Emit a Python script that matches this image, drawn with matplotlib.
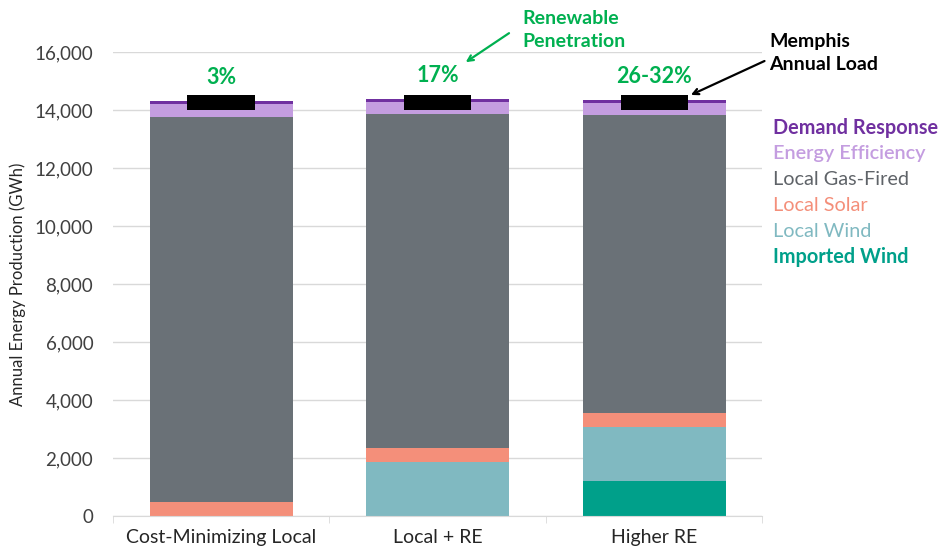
import matplotlib.pyplot as plt
import numpy as np
from matplotlib.ticker import FuncFormatter

plt.rcParams['font.family'] = ['Lato', 'DejaVu Sans']

categories = ['Cost-Minimizing Local', 'Local + RE', 'Higher RE']
imported_wind = [0, 0, 1200]
local_wind = [0, 1850, 1870]
local_solar = [500, 490, 490]
gas_fired = [13270, 11510, 10260]
efficiency = [430, 415, 425]
demand_resp = [115, 115, 115]
memphis_load = [14260, 14260, 14260]
re_share = ['3%', '17%', '26-32%']

series = [('Imported Wind', imported_wind, '#00A08A'),
          ('Local Wind', local_wind, '#80B9C1'),
          ('Local Solar', local_solar, '#F48F7A'),
          ('Local Gas-Fired', gas_fired, '#6A7177'),
          ('Energy Efficiency', efficiency, '#C49DE0'),
          ('Demand Response', demand_resp, '#7030A0')]

fig = plt.figure(figsize=(9.4, 5.57), dpi=100)
ax = fig.add_axes([0.120, 0.0736, 0.691, 0.833])

x = np.arange(len(categories))
bottom = np.zeros(len(categories))
for name, vals, col in series:
    ax.bar(x, vals, 0.66, bottom=bottom, color=col, zorder=2)
    bottom += np.array(vals)

# Memphis annual load marker
load = np.array(memphis_load)
ax.bar(x, 520, 0.31, bottom=load - 260, color='black', zorder=3)

for xi, top, lab in zip(x, bottom, re_share):
    ax.text(xi, top + 450, lab, ha='center', va='bottom', color='#00B050',
            fontsize=15.5, fontweight='bold')

ax.set_xlim(-0.5, 2.5)
ax.set_ylim(0, 16000)
ax.set_yticks(np.arange(0, 16001, 2000))
ax.yaxis.set_major_formatter(FuncFormatter(lambda v, p: f'{v:,.0f}'))
ax.grid(axis='y', color='#D9D9D9', lw=1, zorder=0)
ax.set_xticks(x)
ax.set_xticklabels(categories, fontsize=14, color='#262626')
ax.set_xticks([-0.5, 0.5, 1.5, 2.5], minor=True)
ax.tick_params(axis='x', which='major', length=0, pad=9)
ax.tick_params(axis='x', which='minor', length=5, color='#D9D9D9')
ax.tick_params(axis='y', length=0, labelsize=13.5, labelcolor='#404040', pad=14)
for s in ['left', 'right', 'top']:
    ax.spines[s].set_visible(False)
ax.spines['bottom'].set_color('#D9D9D9')
ax.set_ylabel('Annual Energy Production (GWh)', fontsize=12, color='#262626', labelpad=6)

# annotations
ax.text(1.39, 16750, 'Renewable\nPenetration', color='#00B050', fontsize=14,
        fontweight='bold', ha='left', va='center', linespacing=1.45, clip_on=False)
ax.annotate('', xy=(1.13, 15650), xytext=(1.33, 16650),
            arrowprops=dict(arrowstyle='->', color='#00B050', lw=1.6,
                            shrinkA=0, shrinkB=0), annotation_clip=False)
ax.text(2.532, 15960, 'Memphis\nAnnual Load', color='black', fontsize=14,
        fontweight='bold', ha='left', va='center', linespacing=1.45, clip_on=False)
ax.annotate('', xy=(2.17, 14520), xytext=(2.51, 15690),
            arrowprops=dict(arrowstyle='->', color='black', lw=1.6,
                            shrinkA=0, shrinkB=0), annotation_clip=False)

# legend as coloured text
leg = [('Demand Response', '#7030A0', 'bold'),
       ('Energy Efficiency', '#C49DE0', 'semibold'),
       ('Local Gas-Fired', '#5F6368', 'normal'),
       ('Local Solar', '#F48F7A', 'normal'),
       ('Local Wind', '#80B9C1', 'normal'),
       ('Imported Wind', '#00A08A', 'bold')]
for i, (lab, col, w) in enumerate(leg):
    fig.text(773 / 940, 1 - (128 + i * 25.8) / 557, lab, color=col, fontsize=14.3,
             fontweight=w, ha='left', va='center')

fig.savefig('out.png', dpi=100)
